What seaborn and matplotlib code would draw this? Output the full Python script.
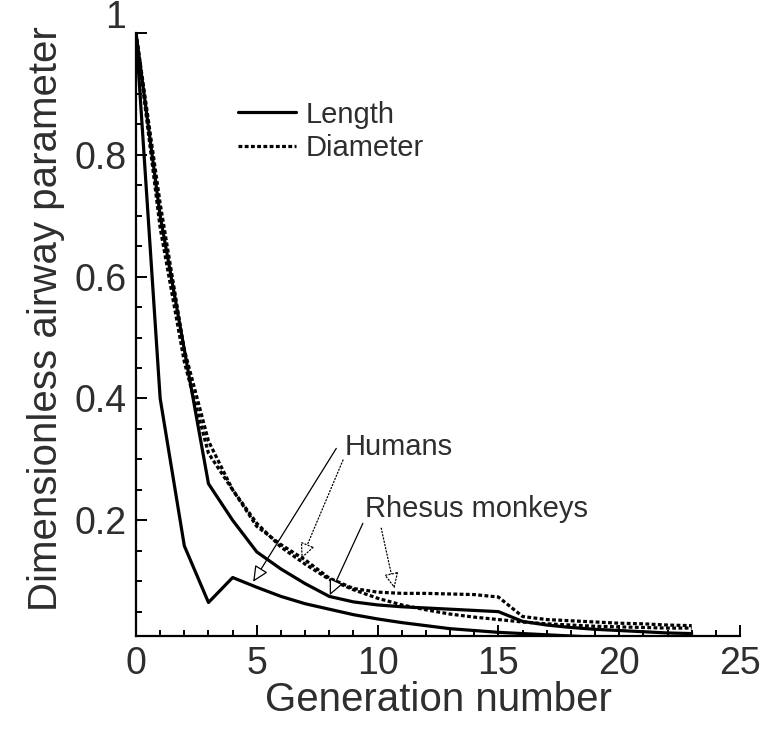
import matplotlib
matplotlib.use("Agg")
import matplotlib.pyplot as plt
import seaborn as sns
import pandas as pd
from matplotlib.lines import Line2D
from matplotlib.ticker import MultipleLocator, FixedLocator

# ---------------- data ----------------
generation = list(range(24))
human_length = [1.0, 0.40, 0.158, 0.065, 0.106, 0.090, 0.075, 0.063, 0.054, 0.045,
                0.038, 0.032, 0.027, 0.022, 0.019, 0.016, 0.014, 0.012, 0.010, 0.008,
                0.007, 0.006, 0.005, 0.004]
human_diameter = [1.0, 0.68, 0.46, 0.31, 0.25, 0.195, 0.156, 0.128, 0.103, 0.086,
                  0.072, 0.061, 0.053, 0.046, 0.041, 0.037, 0.033, 0.030, 0.028, 0.026,
                  0.025, 0.024, 0.023, 0.023]
rhesus_length = [1.0, 0.70, 0.48, 0.26, 0.20, 0.148, 0.120, 0.096, 0.075, 0.066,
                 0.061, 0.058, 0.056, 0.054, 0.052, 0.050, 0.034, 0.028, 0.024, 0.021,
                 0.019, 0.017, 0.015, 0.014]
rhesus_diameter = [1.0, 0.72, 0.48, 0.33, 0.25, 0.19, 0.16, 0.135, 0.105, 0.088,
                   0.082, 0.080, 0.080, 0.079, 0.078, 0.074, 0.042, 0.037, 0.035, 0.033,
                   0.031, 0.030, 0.028, 0.027]

legend_labels = ["Length", "Diameter"]
x_ticks = [0, 5, 10, 15, 20, 25]
y_ticks = [0.2, 0.4, 0.6, 0.8, 1.0]
y_tick_labels = ["0.2", "0.4", "0.6", "0.8", ""]
top_label = "1"
x_label = "Generation number"
y_label = "Dimensionless airway parameter"

# annotation: (text, text position, solid-arrow tip, dotted-arrow tip, solid start, dotted start)
annot_humans = ("Humans", (8.64, 0.307), (4.85, 0.099), (6.85, 0.137), (8.29, 0.318), (8.57, 0.299))
annot_rhesus = ("Rhesus monkeys", (9.46, 0.206), (8.02, 0.077), (10.7, 0.088), (9.39, 0.195), (10.15, 0.187))

# ---------------- long-form table ----------------
rows = []
for species, param, vals in [("Humans", "Length", human_length),
                             ("Humans", "Diameter", human_diameter),
                             ("Rhesus", "Length", rhesus_length),
                             ("Rhesus", "Diameter", rhesus_diameter)]:
    for g, v in zip(generation, vals):
        rows.append({"generation": g, "value": v, "param": param, "species": species})
df = pd.DataFrame(rows)

# ---------------- plot ----------------
sns.set_theme(style="ticks")
plt.rcParams["font.family"] = ["Liberation Sans", "DejaVu Sans"]
text_color = "#2e2e2e"

fig = plt.figure(figsize=(7.68, 7.43), dpi=100)
ax = fig.add_axes([136 / 768, (743 - 636) / 743, (740 - 136) / 768, (636 - 33) / 743])

dot_pattern = (1.2, 0.75)
sns.lineplot(data=df, x="generation", y="value", style="param", units="species",
             estimator=None, color="black", linewidth=2.3,
             dashes={"Length": "", "Diameter": dot_pattern},
             legend=False, ax=ax)

ax.set_xlim(0, 25)
ax.set_ylim(0.01, 1.0)
ax.xaxis.set_major_locator(FixedLocator(x_ticks))
ax.xaxis.set_minor_locator(MultipleLocator(1))
ax.yaxis.set_major_locator(FixedLocator(y_ticks))
ax.yaxis.set_minor_locator(MultipleLocator(0.05))
ax.set_yticklabels(y_tick_labels)
ax.set_xticklabels([str(t) for t in x_ticks])

sns.despine(ax=ax)
for side in ["left", "bottom"]:
    ax.spines[side].set_linewidth(1.6)
    ax.spines[side].set_color("black")

ax.tick_params(which="major", direction="in", length=8, width=1.4, color="black",
               labelsize=27, labelcolor=text_color, pad=7)
ax.tick_params(which="minor", direction="in", length=4.5, width=1.4, color="black")

# the "1" label sits a little above its tick in the reference
ax.annotate(top_label, xy=(0, 1.0), xycoords=("axes fraction", "data"),
            xytext=(-7, 11), textcoords="offset points", ha="right", va="center",
            fontsize=27, color=text_color)

ax.set_xlabel(x_label, fontsize=29, color=text_color)
ax.set_ylabel(y_label, fontsize=29, color=text_color)
ax.xaxis.set_label_coords(0.5, -0.075)
ax.yaxis.set_label_coords(-0.118, 0.527)

# legend
handles = [Line2D([], [], color="black", lw=2.3, ls="-"),
           Line2D([], [], color="black", lw=2.3, ls=(0, dot_pattern))]
leg = ax.legend(handles, legend_labels, loc="upper left", bbox_to_anchor=(0.169, 0.888),
                frameon=False, fontsize=21, handlelength=2.0, handletextpad=0.3,
                labelspacing=0.2, borderpad=0, borderaxespad=0)
for t in leg.get_texts():
    t.set_color(text_color)

# annotations with hollow arrows
for text, tpos, tip_s, tip_d, start_s, start_d in [annot_humans, annot_rhesus]:
    ax.text(tpos[0], tpos[1], text, fontsize=21, color=text_color, ha="left", va="baseline")
    for tip, start, ls in [(tip_s, start_s, "-"), (tip_d, start_d, ":")]:
        ax.annotate("", xy=tip, xytext=start,
                    arrowprops=dict(arrowstyle="-|>,head_length=0.6,head_width=0.28",
                                    fc="white", ec="black", lw=0.9, ls=ls,
                                    shrinkA=0, shrinkB=0, mutation_scale=16))

fig.savefig("out.png", dpi=100)
